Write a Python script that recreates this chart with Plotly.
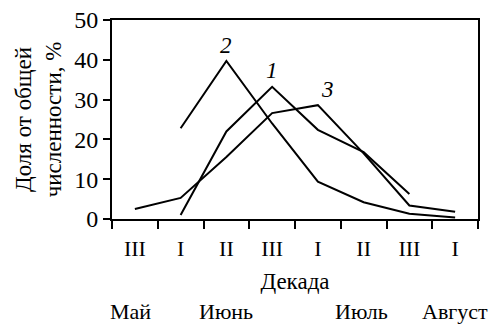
import plotly.graph_objects as go

# Ten-day periods (decades) from late May to early August
decade_labels = ["III", "I", "II", "III", "I", "II", "III", "I"]
positions = list(range(len(decade_labels)))

# Share of total abundance, % (three series)
series1 = [None, 1.0, 22.0, 33.2, 22.4, 16.8, 6.3, None]
series2 = [None, 22.8, 39.7, 24.0, 9.4, 4.2, 1.3, 0.4]
series3 = [2.5, 5.3, 15.6, 26.6, 28.6, 16.5, 3.4, 1.8]

series_names = ["1", "2", "3"]
peak_index = [3, 2, 4]

months = ["Май", "Июнь", "Июль", "Август"]
month_pos = [-0.1, 2.0, 4.95, 7.0]

FONT = "Liberation Serif, Times New Roman, serif"

fig = go.Figure()
for name, vals in zip(series_names, [series1, series2, series3]):
    fig.add_trace(go.Scatter(
        x=positions, y=vals, mode="lines", name=name,
        line=dict(color="black", width=2), connectgaps=False,
    ))

# Italic series numbers above the peaks
label_offsets = {"1": (0.0, 4.1), "2": (0.0, 4.0), "3": (0.2, 4.0)}
for name, vals, idx in zip(series_names, [series1, series2, series3], peak_index):
    dx, dy = label_offsets[name]
    fig.add_annotation(
        x=positions[idx] + dx, y=vals[idx] + dy, text=f"<i>{name}</i>",
        showarrow=False, font=dict(family=FONT, size=23, color="black"),
    )

# Month names under the axis title
for m, p in zip(months, month_pos):
    fig.add_annotation(
        x=p, y=-0.465, xref="x", yref="paper", yanchor="middle",
        text=m, showarrow=False,
        font=dict(family=FONT, size=22, color="black"),
    )

fig.update_layout(
    width=493, height=325,
    margin=dict(l=112, r=15, t=20, b=106),
    paper_bgcolor="white", plot_bgcolor="white",
    showlegend=False,
    font=dict(family=FONT, size=22, color="black"),
    xaxis=dict(
        range=[-0.5, 7.5], tickmode="array", tickvals=positions,
        ticktext=decade_labels, ticks="", showgrid=False, zeroline=False,
        showline=True, linecolor="black", linewidth=2, mirror=True,
        automargin=False,
        minor=dict(tickvals=[p - 0.5 for p in positions] + [7.5],
                   ticks="outside", ticklen=8, tickwidth=2, tickcolor="black"),
        ticklabelstandoff=9,
        title=dict(text="Декада", font=dict(family=FONT, size=23), standoff=12),
        tickfont=dict(family=FONT, size=22),
    ),
    yaxis=dict(
        range=[0, 50], tickmode="array", tickvals=[0, 10, 20, 30, 40, 50],
        ticks="outside", ticklen=7, tickwidth=2, tickcolor="black",
        showgrid=False, zeroline=False, showline=True, linecolor="black",
        linewidth=2, mirror=True, automargin=False,
        tickfont=dict(family=FONT, size=24),
        title=dict(text="Доля от общей<br>численности, %",
                   font=dict(family=FONT, size=23), standoff=6),
    ),
)

fig.write_html("out.html")
